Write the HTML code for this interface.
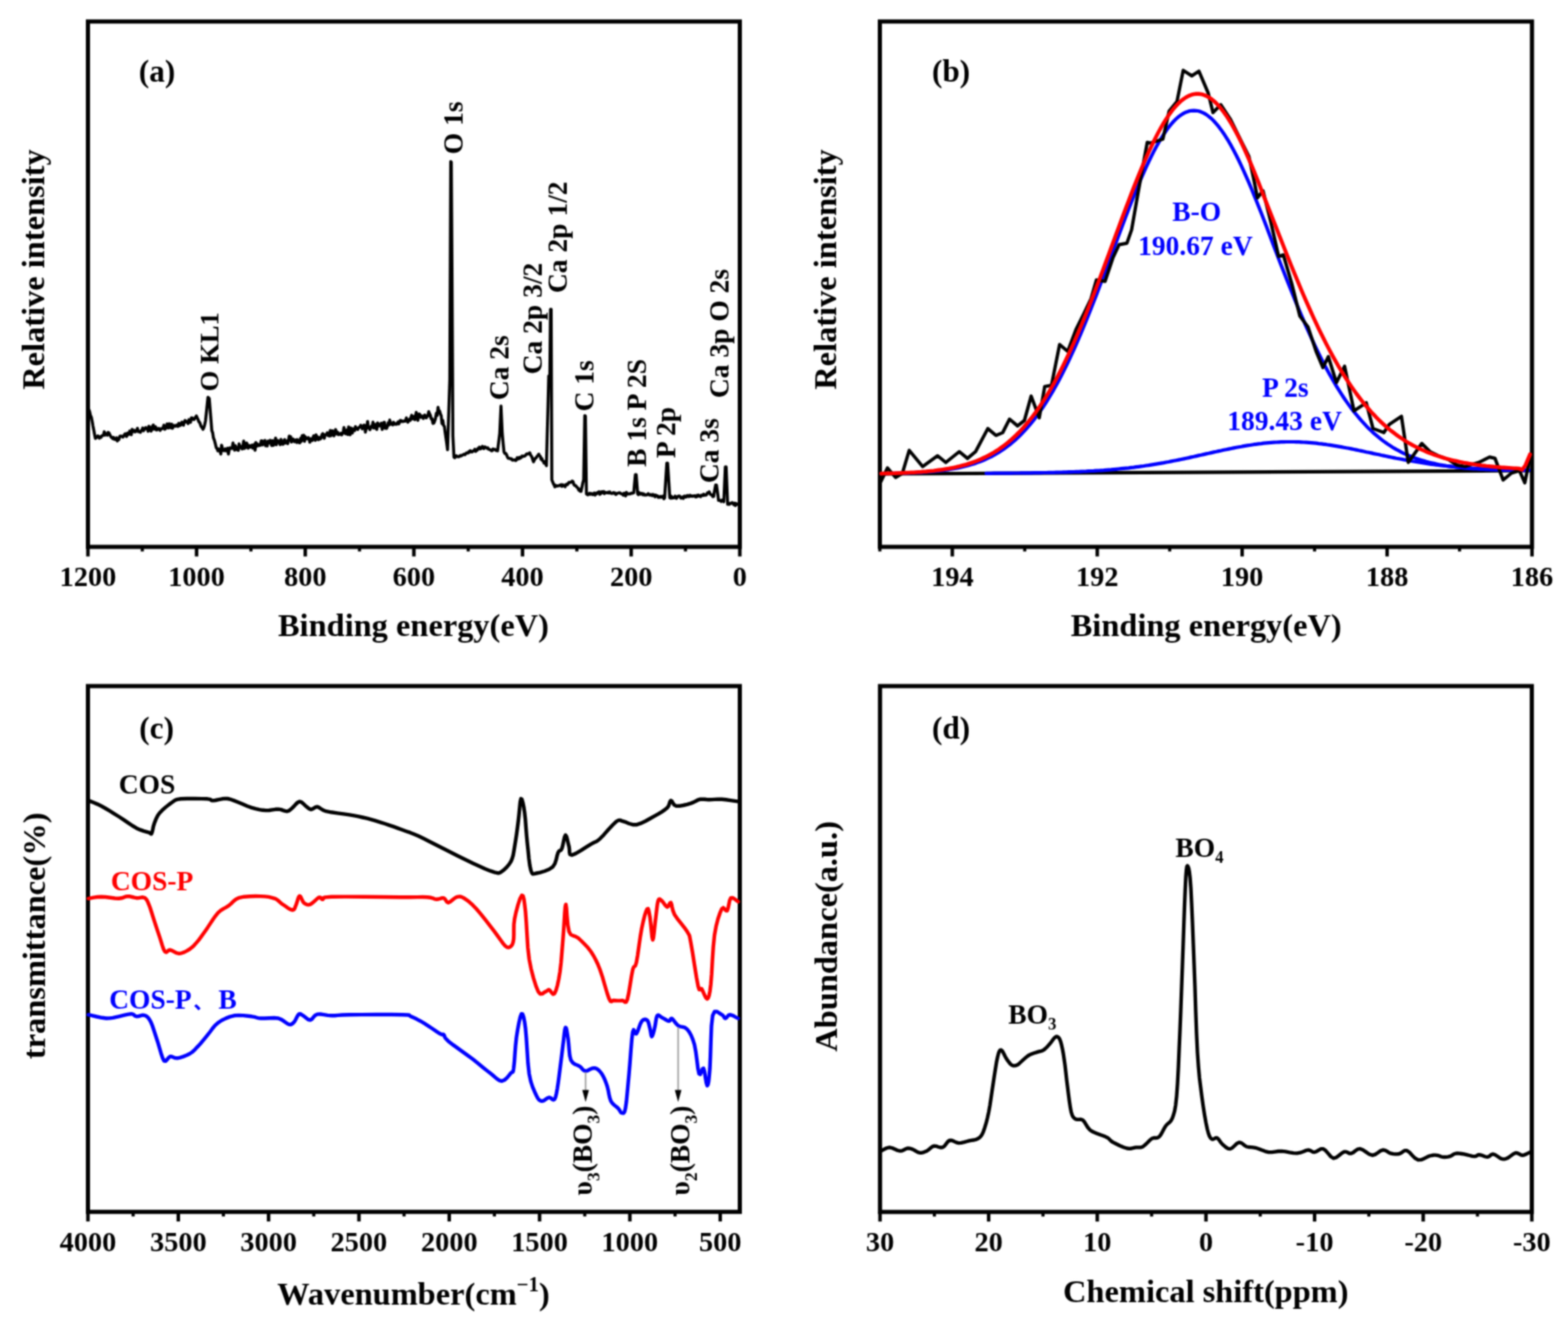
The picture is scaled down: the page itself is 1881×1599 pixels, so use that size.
<!DOCTYPE html>
<html><head><meta charset="utf-8"><title>Figure</title><style>html,body{margin:0;padding:0;background:#fff;}svg{display:block;}</style></head><body><div id="fig">
<svg width="1881" height="1599" viewBox="0 0 1881 1599" font-family="Liberation Serif, Times New Roman, serif" font-weight="bold">
<defs><filter id="soft" filterUnits="userSpaceOnUse" x="0" y="0" width="1881" height="1599" color-interpolation-filters="sRGB"><feConvolveMatrix order="5" kernelMatrix="1 5 10 5 1 5 25 50 25 5 10 50 100 50 10 5 25 50 25 5 1 5 10 5 1" divisor="484" edgeMode="duplicate"/></filter></defs>
<g filter="url(#soft)">
<rect width="1881" height="1599" fill="#fff"/>
<rect x="105.5" y="25.8" width="782.0" height="630.2" fill="none" stroke="#000" stroke-width="5"/>
<line x1="887.5" y1="656" x2="887.5" y2="667.5" stroke="#000" stroke-width="4.2"/>
<line x1="757.2" y1="656" x2="757.2" y2="667.5" stroke="#000" stroke-width="4.2"/>
<line x1="626.8" y1="656" x2="626.8" y2="667.5" stroke="#000" stroke-width="4.2"/>
<line x1="496.5" y1="656" x2="496.5" y2="667.5" stroke="#000" stroke-width="4.2"/>
<line x1="366.2" y1="656" x2="366.2" y2="667.5" stroke="#000" stroke-width="4.2"/>
<line x1="235.8" y1="656" x2="235.8" y2="667.5" stroke="#000" stroke-width="4.2"/>
<line x1="105.5" y1="656" x2="105.5" y2="667.5" stroke="#000" stroke-width="4.2"/>
<line x1="822.3" y1="656" x2="822.3" y2="661.5" stroke="#000" stroke-width="3.8"/>
<line x1="692" y1="656" x2="692" y2="661.5" stroke="#000" stroke-width="3.8"/>
<line x1="561.7" y1="656" x2="561.7" y2="661.5" stroke="#000" stroke-width="3.8"/>
<line x1="431.3" y1="656" x2="431.3" y2="661.5" stroke="#000" stroke-width="3.8"/>
<line x1="301" y1="656" x2="301" y2="661.5" stroke="#000" stroke-width="3.8"/>
<line x1="170.7" y1="656" x2="170.7" y2="661.5" stroke="#000" stroke-width="3.8"/>
<text x="887.5" y="702.5" font-size="34" text-anchor="middle" fill="#000" >0</text>
<text x="757.2" y="702.5" font-size="34" text-anchor="middle" fill="#000" >200</text>
<text x="626.8" y="702.5" font-size="34" text-anchor="middle" fill="#000" >400</text>
<text x="496.5" y="702.5" font-size="34" text-anchor="middle" fill="#000" >600</text>
<text x="366.2" y="702.5" font-size="34" text-anchor="middle" fill="#000" >800</text>
<text x="235.8" y="702.5" font-size="34" text-anchor="middle" fill="#000" >1000</text>
<text x="105.5" y="702.5" font-size="34" text-anchor="middle" fill="#000" >1200</text>
<text x="496" y="763" font-size="38.9" text-anchor="middle" fill="#000" >Binding energy(eV)</text>
<text x="53" y="467.5" font-size="38.9" text-anchor="start" fill="#000" transform="rotate(-90 53 467.5)" >Relative intensity</text>
<text x="166.5" y="97.5" font-size="37.5" text-anchor="start" fill="#000" >(a)</text>
<text x="554.8" y="185" font-size="33" text-anchor="start" fill="#000" transform="rotate(-90 554.8 185)" >O 1s</text>
<text x="262" y="469.5" font-size="32" text-anchor="start" fill="#000" transform="rotate(-90 262 469.5)" >O KL1</text>
<text x="609.5" y="480" font-size="33" text-anchor="start" fill="#000" transform="rotate(-90 609.5 480)" >Ca 2s</text>
<text x="650" y="449" font-size="33" text-anchor="start" fill="#000" transform="rotate(-90 650 449)" >Ca 2p 3/2</text>
<text x="679.5" y="351.5" font-size="33" text-anchor="start" fill="#000" transform="rotate(-90 679.5 351.5)" >Ca 2p 1/2</text>
<text x="712" y="493.5" font-size="33" text-anchor="start" fill="#000" transform="rotate(-90 712 493.5)" >C 1s</text>
<text x="775" y="560" font-size="33" text-anchor="start" fill="#000" transform="rotate(-90 775 560)" >B 1s P 2S</text>
<text x="810" y="549.5" font-size="33" text-anchor="start" fill="#000" transform="rotate(-90 810 549.5)" >P 2p</text>
<text x="861.6" y="579.5" font-size="33" text-anchor="start" fill="#000" transform="rotate(-90 861.6 579.5)" >Ca 3s</text>
<text x="874.2" y="477.5" font-size="33" text-anchor="start" fill="#000" transform="rotate(-90 874.2 477.5)" >Ca 3p O 2s</text>
<path d="M106.4,491 L107.5,493.7 L108.5,498.3 L109.6,500.6 L110.6,505.7 L111.5,510.8 L112.5,515.8 L113.4,520.9 L114.4,526 L115.4,525.1 L116.3,524.5 L117.3,522.9 L118.3,523.8 L119.2,525.7 L120.2,524 L121.2,524.6 L122.2,522.8 L123.1,522.6 L124.1,521.7 L125.1,517.9 L126,522 L127,520 L127.9,521.5 L128.8,522.1 L129.8,518.7 L130.7,519.2 L131.6,521.3 L132.5,522.7 L133.4,524.6 L134.3,524.6 L135.2,526.2 L136.2,524.7 L137.1,527 L138,527 L138.9,527.3 L139.9,525.1 L140.8,529 L141.7,526.5 L142.6,527.3 L143.6,523.6 L144.5,523 L145.4,523.4 L146.4,523.4 L147.3,524.4 L148.2,523.3 L149.1,521.7 L150.1,520.4 L151,520.8 L151.9,523.6 L152.9,519.5 L153.8,521.1 L154.7,521 L155.6,517.2 L156.6,519.6 L157.5,521.5 L158.4,515.1 L159.4,517.8 L160.3,517.8 L161.2,516.2 L162.1,518.1 L163.1,516.8 L164,516.5 L164.9,513.8 L165.8,517.8 L166.7,517.4 L167.6,517.8 L168.5,518.6 L169.4,516.6 L170.3,516 L171.2,513.4 L172.2,516.7 L173.1,514.4 L174,514.6 L174.9,513 L175.8,513.5 L176.7,514.1 L177.6,517.3 L178.5,511.2 L179.4,512.2 L180.3,515.1 L181.2,517.2 L182.1,515.5 L183,511 L183.9,509.8 L184.8,514.8 L185.7,512.8 L186.6,512 L187.5,515.7 L188.5,515.8 L189.4,514 L190.3,514 L191.2,514.3 L192.1,516.3 L193,514.4 L193.9,514.1 L194.8,514.1 L195.7,513 L196.6,510 L197.6,515 L198.5,514.2 L199.4,513.2 L200.4,508.6 L201.3,510.8 L202.2,513.3 L203.2,508.3 L204.1,511.1 L205.1,513.1 L206,508.7 L206.9,513.8 L207.9,511.7 L208.8,510.3 L209.7,510.9 L210.7,511.3 L211.6,510 L212.5,509.9 L213.5,511.5 L214.4,507.9 L215.4,508.1 L216.3,510.4 L217.2,508.3 L218.2,506.4 L219.1,509.4 L220.1,510 L221,506.3 L222,504.3 L222.9,506.2 L223.8,505.9 L224.8,505.3 L225.7,508.1 L226.7,503.4 L227.6,505 L228.6,506.5 L229.6,501.2 L230.6,501.3 L231.6,503.1 L232.6,503.3 L233.6,502 L234.6,500.4 L235.6,499 L236.6,501.3 L237.6,503.3 L238.6,506 L239.6,506.7 L240.5,509.5 L241.5,512 L242.5,513 L243.5,515 L244.5,513 L245.5,509.7 L246.5,505 L247.5,495.5 L248.5,486 L249.5,476.5 L251,478 L252.1,491.5 L253.2,505 L254.1,516.5 L255.1,519.1 L256,525 L257.2,528.1 L258.3,532.3 L259.5,537.3 L260.4,537.9 L261.3,540.8 L262.2,538.4 L263.1,540.8 L264,540.5 L264.9,544.7 L265.8,534 L266.7,537.3 L267.7,540.4 L268.6,540.7 L269.5,540.1 L270.4,538.3 L271.3,540.8 L272.2,539.7 L273.1,537.6 L274,544.6 L275,539.4 L275.9,537.1 L276.8,538 L277.7,537.6 L278.6,537.8 L279.5,531.2 L280.4,536.5 L281.4,539.9 L282.3,534.5 L283.2,537 L284.1,539.3 L285,538.9 L285.9,540.2 L286.8,532.4 L287.7,535.5 L288.7,535.4 L289.6,537.5 L290.5,538.5 L291.4,535.7 L292.3,529.1 L293.2,538 L294.1,531.8 L295,536.8 L296,531.4 L296.9,535.3 L297.8,537.6 L298.7,534.3 L299.6,535 L300.5,536.3 L301.4,534.6 L302.3,533.9 L303.2,537.6 L304.2,536.3 L305.1,533 L306,540.1 L306.9,530.7 L307.8,535.5 L308.7,532.5 L309.6,533.3 L310.5,534.6 L311.5,533.3 L312.4,534.1 L313.3,528.8 L314.2,528.7 L315.1,533.7 L316,529.8 L316.9,529.5 L317.8,528.3 L318.7,534.7 L319.7,533.3 L320.6,534.9 L321.5,529 L322.4,531.1 L323.3,531 L324.2,528.2 L325.1,532.6 L326,534.5 L326.9,528.5 L327.9,534.3 L328.8,532.8 L329.7,529.9 L330.6,525.5 L331.5,533.5 L332.4,529.8 L333.3,528.5 L334.2,530.8 L335.1,530.8 L336.1,533.3 L337,527.1 L337.9,532.2 L338.8,533 L339.7,532.8 L340.6,528.8 L341.5,527.3 L342.4,531.5 L343.4,529.2 L344.3,529.1 L345.2,532.2 L346.1,528 L347,523 L347.9,527.5 L348.8,523.9 L349.7,530.2 L350.6,528.9 L351.6,526.6 L352.5,528 L353.4,529.9 L354.3,528 L355.2,527.7 L356.1,530.8 L357,527.4 L358,530 L358.9,531 L359.8,531.2 L360.7,525.6 L361.6,529.2 L362.5,522.5 L363.5,524.4 L364.4,522.2 L365.3,529.4 L366.2,523.8 L367.1,526.6 L368.1,526.1 L369,526.4 L369.9,525 L370.8,526.9 L371.7,530.5 L372.7,526.3 L373.6,527.3 L374.5,528.4 L375.4,525.4 L376.3,522.8 L377.2,524.4 L378.2,528.2 L379.1,521.6 L380,525.5 L380.9,523.9 L381.8,527.5 L382.7,526.8 L383.6,524.8 L384.5,526.5 L385.4,524.8 L386.3,521.3 L387.2,520.2 L388.1,522.2 L389,525.8 L389.9,522 L390.8,521 L391.7,521.2 L392.6,519.2 L393.5,522.4 L394.4,519.6 L395.3,523.1 L396.2,516.4 L397.1,522.7 L398,520.1 L398.9,516.8 L399.8,521.3 L400.7,522.8 L401.6,520.1 L402.6,515.2 L403.5,518.2 L404.4,520.7 L405.3,518.7 L406.2,521.4 L407.1,521.1 L408.1,520.6 L409,519.6 L409.9,521.7 L410.8,519.8 L411.7,519.1 L412.6,512.8 L413.6,519.7 L414.5,520.4 L415.4,516.3 L416.3,515.6 L417.2,521.2 L418.2,512 L419.1,517.1 L420,521.6 L420.9,513.3 L421.8,516.9 L422.7,519.5 L423.7,514.4 L424.6,515.8 L425.5,516.4 L426.4,511.8 L427.3,513.5 L428.2,514.2 L429.2,515.2 L430.1,512.9 L431,512.7 L431.9,512.1 L432.8,510.1 L433.7,511.6 L434.6,514.5 L435.6,512.5 L436.5,510.1 L437.4,510 L438.3,518.4 L439.2,514.6 L440.1,513.3 L441,505.5 L441.9,513.1 L442.9,512.7 L443.8,515.5 L444.7,512.4 L445.6,511.1 L446.5,512.4 L447.4,506.4 L448.3,513.5 L449.2,511.7 L450.1,509.1 L451.1,513.9 L452,515 L452.9,507.2 L453.8,508.8 L454.7,511 L455.6,510.7 L456.5,509.2 L457.4,507.7 L458.4,515.1 L459.3,512.4 L460.2,506.9 L461.1,506.5 L462,513.7 L462.9,511.9 L463.8,513.8 L464.7,511.3 L465.7,507.2 L466.6,509.8 L467.5,503.9 L468.4,507.2 L469.3,508.9 L470.2,508.5 L471.1,509.7 L472,506.5 L472.9,507.7 L473.9,508.9 L474.8,508.4 L475.7,508.8 L476.6,507.6 L477.5,506.1 L478.4,508.5 L479.3,506.5 L480.2,504.2 L481.1,504.4 L482.1,505.7 L483,505.2 L483.9,505.6 L484.8,505 L485.7,505.2 L486.6,504.2 L487.5,501.3 L488.4,505.1 L489.3,506.4 L490.2,504.7 L491.2,503 L492.1,504.3 L493,500.6 L493.9,498.2 L494.8,502.5 L495.7,502.4 L496.7,499.7 L497.6,503.4 L498.5,498.7 L499.4,494.7 L500.4,498.3 L501.3,504.3 L502.2,499.3 L503.1,496.6 L504.1,497.8 L505,500.6 L505.9,500.2 L506.9,499.1 L507.8,502 L508.7,499.8 L509.6,497.8 L510.6,499 L511.5,501.2 L512.4,499.3 L513.3,499.1 L514.3,493.8 L515.2,496.1 L516.2,498 L517.3,502.5 L518.3,502.3 L519.4,507.9 L520.4,507.6 L521.4,505.2 L522.4,502.1 L523.5,495.6 L524.5,498.4 L525.5,488.5 L526.5,494 L527.4,493.1 L528.3,496.4 L529.3,498.7 L530.2,508.1 L531.2,504.3 L532.1,510.4 L533.1,511.5 L534,518.5 L535,525.5 L536,532.5 L536.9,539.5 L537.8,511.3 L538.7,483.2 L539.6,455 L540.7,193.8 L541.4,194.5 L542.2,320 L543.3,523 L544.6,548.5 L545.5,549.1 L546.5,548 L547.4,546.7 L548.3,547.6 L549.3,547.5 L550.2,548 L551.1,547.4 L552.1,546.4 L553,546.9 L553.9,546.4 L554.9,545.8 L555.8,545.4 L556.7,544.9 L557.7,545.5 L558.6,544.6 L559.5,543.3 L560.4,543.3 L561.3,543.5 L562.3,541.8 L563.2,542.4 L564.1,540.6 L565,541.5 L565.9,542.2 L566.8,541.9 L567.7,540.9 L568.7,540.4 L569.6,539 L570.5,541.5 L571.4,540 L572.3,540.2 L573.2,538 L574.1,538.3 L575.1,536.4 L576,538.4 L576.9,538.2 L577.8,537 L578.7,535.5 L579.6,537.3 L580.5,538.1 L581.4,536.1 L582.3,536.3 L583.3,537.1 L584.2,537.7 L585.1,537.2 L586,538.7 L586.9,539 L587.8,539.6 L588.7,539.8 L589.6,540.7 L590.5,540.6 L591.4,538.5 L592.4,539.4 L593.3,539.1 L594.2,539.3 L595.1,540.4 L596,540.6 L596.9,540.8 L598.2,530.4 L599.5,520 L601,487 L602.5,520 L603.5,531 L604.6,542 L605.6,544 L606.6,543.7 L607.7,545.5 L608.7,548.1 L609.7,549.7 L610.7,549.8 L611.7,550 L612.6,550.6 L613.6,550.3 L614.6,551.9 L615.6,551.9 L616.5,551.8 L617.5,551.6 L618.5,552.5 L619.4,551.8 L620.4,549 L621.3,550.1 L622.3,550.5 L623.2,548.6 L624.2,549.6 L625.1,549 L626.1,547.1 L627,547.6 L627.9,547.1 L628.9,547.2 L629.8,546.9 L630.8,545.8 L631.7,544.5 L632.7,544.6 L633.6,544.2 L634.6,544.4 L635.5,543.2 L636.4,545.6 L637.3,546.9 L638.2,548.5 L639.1,551.5 L640,554 L641,551.8 L642.1,549.9 L643.1,549.3 L644.2,547.4 L645.2,546.4 L646.3,544.8 L647.2,546.7 L648.1,547.2 L649.1,551 L650,550 L650.9,552.7 L651.8,553.2 L652.7,555.5 L653.7,553.7 L654.6,556.5 L655.5,558.6 L656.4,522.7 L657.4,486.9 L658.3,451 L659.6,450 L660.4,371 L661.2,371 L662,575.6 L662.9,577.9 L663.9,580.3 L664.8,581.8 L665.7,584 L666.7,582.2 L667.6,583.1 L668.6,582.7 L669.5,582.9 L670.4,582.6 L671.4,582 L672.3,582.7 L673.2,581.3 L674.2,583.4 L675.1,581.5 L676.1,582.7 L677,582.5 L677.9,583.9 L678.9,581.2 L679.8,580.9 L680.7,581.3 L681.6,579.8 L682.6,578.5 L683.5,578.9 L684.4,578.6 L685.4,578.2 L686.3,577 L687.3,577.6 L688.4,581.2 L689.4,582.4 L690.4,582.2 L691.5,583.7 L692.5,584.8 L693.4,585.4 L694.3,588 L695.2,587 L696.1,589.2 L697,589.5 L698.1,584.4 L699.1,579.6 L700.2,575.6 L701.5,498.5 L702.3,499 L703.5,592.5 L704.4,593.1 L705.4,593.6 L706.3,592.3 L707.3,591.6 L708.2,592.9 L709.2,592 L710.1,592.3 L711,593.3 L712,592.9 L712.9,591.3 L713.9,593.8 L714.8,591.6 L715.8,592.3 L716.7,590.9 L717.6,591.4 L718.6,589.8 L719.5,592.9 L720.5,592.4 L721.4,590 L722.4,589.7 L723.3,591 L724.2,589.6 L725.1,592.1 L726,590.7 L726.9,591.1 L727.8,590.9 L728.8,591.2 L729.7,590.3 L730.6,591.4 L731.5,590.1 L732.4,591.4 L733.3,591.8 L734.2,592 L735.1,591.4 L736,590.8 L736.9,591.8 L737.8,591.3 L738.8,593.2 L739.7,592.5 L740.6,591.7 L741.5,591.5 L742.4,591.3 L743.3,591.1 L744.2,591.7 L745.1,592.3 L746,592.6 L746.9,592.7 L747.8,594.1 L748.7,591.6 L749.7,592.3 L750.6,594.8 L751.5,590.7 L752.4,591.9 L753.3,592.6 L754.2,592.5 L755.2,592.4 L756.2,592.4 L757.2,591.5 L758.3,591.8 L759.3,591.3 L760.3,591 L761.2,580.2 L762.2,569.4 L763.2,569.4 L765,592.5 L765.9,593.3 L766.8,590.9 L767.7,591.9 L768.6,592.8 L769.5,591.9 L770.5,592 L771.4,593.5 L772.3,592.5 L773.2,593.7 L774.1,593.9 L775,593.5 L775.9,593.8 L776.8,593.3 L777.7,592.2 L778.6,593.5 L779.5,594 L780.5,593.2 L781.4,593.6 L782.3,594.5 L783.2,593.1 L784.1,594.5 L785,594 L785.9,595.9 L786.9,594 L787.8,594.9 L788.8,594.8 L789.7,596.6 L790.7,595.8 L791.6,596.5 L792.6,595.3 L793.5,596.2 L794.5,596.5 L795.4,595.1 L796.4,598.3 L797.3,597.2 L798.6,576.4 L799.9,555.5 L800.9,555.5 L802.2,576.2 L803.5,597 L804.4,597.7 L805.3,595.3 L806.2,597.5 L807.1,596.6 L808,597.1 L808.9,597 L809.8,595.2 L810.7,596.3 L811.6,597.8 L812.5,595.9 L813.4,595.4 L814.3,595 L815.2,595.1 L816.1,596.4 L817,597.6 L817.9,596.4 L818.8,596.2 L819.7,597.9 L820.6,595.3 L821.5,595.1 L822.4,596.2 L823.3,596.1 L824.2,594.6 L825.1,594.4 L826,595.7 L826.9,595.6 L827.8,594.1 L828.7,595.1 L829.6,594.7 L830.5,595.5 L831.4,595 L832.3,594.9 L833.2,594.6 L834.1,595.8 L835,596.1 L835.9,594.4 L836.8,595.4 L837.7,593.9 L838.6,594.6 L839.5,595.2 L840.4,595.8 L841.3,594 L842.2,594.2 L843.1,594.4 L844,592.8 L844.9,594.1 L845.8,593.5 L846.7,594 L847.7,593.3 L848.8,591 L849.8,591 L850.8,590 L851.9,592.6 L852.9,593.5 L853.9,593.6 L855,595.6 L856,595.6 L857.2,588.7 L858.5,581.8 L859.5,581.8 L860.8,591 L862,600.3 L863,600.3 L864.1,600.3 L865.1,601.5 L866.2,599.9 L867.2,600.9 L868.3,601.8 L869.2,580.9 L870.1,560 L871.1,560 L872.9,604.9 L873.8,604.6 L874.7,605 L875.7,603.8 L876.6,603.9 L877.5,603.3 L878.4,602.9 L879.4,604 L880.3,605.4 L881.2,603.5 L882.2,606.5 L883.1,604 L884.1,604.8 L885,605" fill="none" stroke="#000" stroke-width="3.6" stroke-linejoin="round" stroke-linecap="round" />
<rect x="1055.5" y="25.8" width="782.3" height="630.2" fill="none" stroke="#000" stroke-width="5"/>
<line x1="1142.4" y1="656" x2="1142.4" y2="667.5" stroke="#000" stroke-width="4.2"/>
<line x1="1316.3" y1="656" x2="1316.3" y2="667.5" stroke="#000" stroke-width="4.2"/>
<line x1="1490.1" y1="656" x2="1490.1" y2="667.5" stroke="#000" stroke-width="4.2"/>
<line x1="1664" y1="656" x2="1664" y2="667.5" stroke="#000" stroke-width="4.2"/>
<line x1="1837.8" y1="656" x2="1837.8" y2="667.5" stroke="#000" stroke-width="4.2"/>
<line x1="1055.5" y1="656" x2="1055.5" y2="661.5" stroke="#000" stroke-width="3.8"/>
<line x1="1229.3" y1="656" x2="1229.3" y2="661.5" stroke="#000" stroke-width="3.8"/>
<line x1="1403.2" y1="656" x2="1403.2" y2="661.5" stroke="#000" stroke-width="3.8"/>
<line x1="1577" y1="656" x2="1577" y2="661.5" stroke="#000" stroke-width="3.8"/>
<line x1="1750.9" y1="656" x2="1750.9" y2="661.5" stroke="#000" stroke-width="3.8"/>
<text x="1142.4" y="703" font-size="34" text-anchor="middle" fill="#000" >194</text>
<text x="1316.3" y="703" font-size="34" text-anchor="middle" fill="#000" >192</text>
<text x="1490.1" y="703" font-size="34" text-anchor="middle" fill="#000" >190</text>
<text x="1664" y="703" font-size="34" text-anchor="middle" fill="#000" >188</text>
<text x="1837.8" y="703" font-size="34" text-anchor="middle" fill="#000" >186</text>
<text x="1447" y="762.5" font-size="38.9" text-anchor="middle" fill="#000" >Binding energy(eV)</text>
<text x="1003" y="467.5" font-size="38.9" text-anchor="start" fill="#000" transform="rotate(-90 1003 467.5)" >Relative intensity</text>
<text x="1118" y="97.5" font-size="37.5" text-anchor="start" fill="#000" >(b)</text>
<path d="M1056,568.5 L1836,564.5" fill="none" stroke="#000" stroke-width="4.2" stroke-linejoin="round" stroke-linecap="round" />
<path d="M1183,567.8 L1186,567.8 L1189,567.8 L1192,567.7 L1195,567.7 L1198,567.7 L1201,567.7 L1204,567.6 L1207,567.6 L1210,567.6 L1213,567.6 L1216,567.5 L1219,567.5 L1222,567.5 L1225,567.4 L1228,567.4 L1231,567.3 L1234,567.3 L1237,567.3 L1240,567.2 L1243,567.2 L1246,567.1 L1249,567.1 L1252,567 L1255,567 L1258,566.9 L1261,566.8 L1264,566.8 L1267,566.7 L1270,566.6 L1273,566.5 L1276,566.4 L1279,566.3 L1282,566.2 L1285,566.1 L1288,566 L1291,565.9 L1294,565.8 L1297,565.6 L1300,565.5 L1303,565.4 L1306,565.2 L1309,565 L1312,564.9 L1315,564.7 L1318,564.5 L1321,564.3 L1324,564.1 L1327,563.8 L1330,563.6 L1333,563.4 L1336,563.1 L1339,562.8 L1342,562.5 L1345,562.2 L1348,561.9 L1351,561.6 L1354,561.3 L1357,560.9 L1360,560.6 L1363,560.2 L1366,559.8 L1369,559.4 L1372,559 L1375,558.5 L1378,558.1 L1381,557.6 L1384,557.1 L1387,556.6 L1390,556.1 L1393,555.6 L1396,555.1 L1399,554.5 L1402,554 L1405,553.4 L1408,552.8 L1411,552.2 L1414,551.6 L1417,551 L1420,550.4 L1423,549.7 L1426,549.1 L1429,548.4 L1432,547.8 L1435,547.1 L1438,546.4 L1441,545.8 L1444,545.1 L1447,544.4 L1450,543.8 L1453,543.1 L1456,542.4 L1459,541.8 L1462,541.1 L1465,540.5 L1468,539.8 L1471,539.2 L1474,538.6 L1477,538 L1480,537.4 L1483,536.8 L1486,536.2 L1489,535.7 L1492,535.1 L1495,534.6 L1498,534.2 L1501,533.7 L1504,533.2 L1507,532.8 L1510,532.4 L1513,532.1 L1516,531.7 L1519,531.4 L1522,531.1 L1525,530.9 L1528,530.7 L1531,530.5 L1534,530.3 L1537,530.2 L1540,530.1 L1543,530 L1546,530 L1549,530 L1552,530 L1555,530.1 L1558,530.2 L1561,530.3 L1564,530.5 L1567,530.7 L1570,530.9 L1573,531.1 L1576,531.4 L1579,531.7 L1582,532.1 L1585,532.4 L1588,532.8 L1591,533.2 L1594,533.7 L1597,534.1 L1600,534.6 L1603,535.1 L1606,535.6 L1609,536.1 L1612,536.7 L1615,537.3 L1618,537.8 L1621,538.4 L1624,539 L1627,539.6 L1630,540.3 L1633,540.9 L1636,541.5 L1639,542.2 L1642,542.8 L1645,543.4 L1648,544.1 L1651,544.7 L1654,545.3 L1657,546 L1660,546.6 L1663,547.2 L1666,547.9 L1669,548.5 L1672,549.1 L1675,549.7 L1678,550.2 L1681,550.8 L1684,551.4 L1687,551.9 L1690,552.5 L1693,553 L1696,553.5 L1699,554 L1702,554.5 L1705,555 L1708,555.5 L1711,555.9 L1714,556.4 L1717,556.8 L1720,557.2 L1723,557.6 L1726,557.9 L1729,558.3 L1732,558.7 L1735,559 L1738,559.3 L1741,559.6 L1744,559.9 L1747,560.2 L1750,560.5 L1753,560.7 L1756,560.9 L1759,561.2 L1762,561.4 L1765,561.6 L1768,561.8 L1771,562 L1774,562.1 L1777,562.3 L1780,562.5 L1783,562.6 L1786,562.7 L1789,562.9 L1792,563 L1795,563.1 L1798,563.2 L1801,563.3 L1804,563.4 L1807,563.5 L1810,563.5 L1813,563.6 L1816,563.7 L1819,563.7 L1822,563.8 L1825,563.8 L1828,563.9 L1831,563.9 L1834,563.9" fill="none" stroke="#0000ff" stroke-width="4.2" stroke-linejoin="round" stroke-linecap="round" />
<path d="M1057,568.2 L1060,568.2 L1063,568.1 L1066,568 L1069,568 L1072,567.9 L1075,567.8 L1078,567.7 L1081,567.7 L1084,567.6 L1087,567.5 L1090,567.3 L1093,567.2 L1096,567.1 L1099,566.9 L1102,566.8 L1105,566.6 L1108,566.4 L1111,566.2 L1114,566 L1117,565.7 L1120,565.4 L1123,565.1 L1126,564.8 L1129,564.5 L1132,564.1 L1135,563.7 L1138,563.3 L1141,562.8 L1144,562.3 L1147,561.7 L1150,561.1 L1153,560.5 L1156,559.8 L1159,559 L1162,558.2 L1165,557.3 L1168,556.4 L1171,555.4 L1174,554.3 L1177,553.2 L1180,552 L1183,550.6 L1186,549.2 L1189,547.8 L1192,546.2 L1195,544.5 L1198,542.7 L1201,540.8 L1204,538.8 L1207,536.6 L1210,534.4 L1213,532 L1216,529.4 L1219,526.8 L1222,524 L1225,521 L1228,517.9 L1231,514.6 L1234,511.2 L1237,507.6 L1240,503.9 L1243,500 L1246,495.9 L1249,491.6 L1252,487.2 L1255,482.5 L1258,477.7 L1261,472.7 L1264,467.6 L1267,462.2 L1270,456.7 L1273,451 L1276,445.1 L1279,439.1 L1282,432.8 L1285,426.4 L1288,419.9 L1291,413.1 L1294,406.2 L1297,399.2 L1300,392 L1303,384.7 L1306,377.3 L1309,369.8 L1312,362.1 L1315,354.4 L1318,346.5 L1321,338.6 L1324,330.7 L1327,322.6 L1330,314.6 L1333,306.5 L1336,298.5 L1339,290.4 L1342,282.4 L1345,274.4 L1348,266.4 L1351,258.6 L1354,250.8 L1357,243.1 L1360,235.6 L1363,228.2 L1366,221 L1369,213.9 L1372,207.1 L1375,200.4 L1378,194 L1381,187.8 L1384,181.9 L1387,176.2 L1390,170.9 L1393,165.8 L1396,161.1 L1399,156.7 L1402,152.6 L1405,148.9 L1408,145.5 L1411,142.5 L1414,139.9 L1417,137.7 L1420,135.9 L1423,134.4 L1426,133.4 L1429,132.8 L1432,132.6 L1435,132.8 L1438,133.3 L1441,134.3 L1444,135.7 L1447,137.4 L1450,139.6 L1453,142.1 L1456,145 L1459,148.3 L1462,151.9 L1465,155.9 L1468,160.2 L1471,164.8 L1474,169.7 L1477,174.9 L1480,180.5 L1483,186.2 L1486,192.3 L1489,198.6 L1492,205.1 L1495,211.8 L1498,218.7 L1501,225.8 L1504,233.1 L1507,240.5 L1510,248 L1513,255.6 L1516,263.3 L1519,271.1 L1522,279 L1525,286.9 L1528,294.9 L1531,302.8 L1534,310.7 L1537,318.4 L1540,326.1 L1543,333.7 L1546,341.3 L1549,348.8 L1552,356.2 L1555,363.6 L1558,370.8 L1561,377.9 L1564,384.9 L1567,391.8 L1570,398.5 L1573,405.2 L1576,411.6 L1579,417.9 L1582,424.1 L1585,430.1 L1588,436 L1591,441.7 L1594,447.2 L1597,452.6 L1600,457.8 L1603,462.8 L1606,467.7 L1609,472.4 L1612,477 L1615,481.4 L1618,485.6 L1621,489.7 L1624,493.6 L1627,497.3 L1630,500.9 L1633,504.4 L1636,507.7 L1639,510.9 L1642,513.9 L1645,516.8 L1648,519.6 L1651,522.2 L1654,524.7 L1657,527.1 L1660,529.4 L1663,531.5 L1666,533.6 L1669,535.5 L1672,537.4 L1675,539.1 L1678,540.7 L1681,542.3 L1684,543.8 L1687,545.2 L1690,546.5 L1693,547.7 L1696,548.9 L1699,550 L1702,551 L1705,551.9 L1708,552.8 L1711,553.7 L1714,554.5 L1717,555.2 L1720,555.9 L1723,556.6 L1726,557.2 L1729,557.7 L1732,558.3 L1735,558.8 L1738,559.2 L1741,559.6 L1744,560 L1747,560.4 L1750,560.7 L1753,561 L1756,561.3 L1759,561.6 L1762,561.8 L1765,562.1 L1768,562.3 L1771,562.5 L1774,562.7 L1777,562.8 L1780,563 L1783,563.1 L1786,563.2 L1789,563.3 L1792,563.4 L1795,563.5 L1798,563.6 L1801,563.7 L1804,563.8 L1807,563.8 L1810,563.9 L1813,563.9 L1816,564 L1819,564 L1822,564.1 L1825,564.1 L1828,564.1 L1831,564.1 L1834,564.2" fill="none" stroke="#0000ff" stroke-width="4.2" stroke-linejoin="round" stroke-linecap="round" />
<path d="M1056,579.2 L1064.6,561.3 L1074.4,572.7 L1082.5,567.8 L1090.7,540.2 L1106.9,559.7 L1124.8,546.7 L1134.6,554.8 L1150.8,541.8 L1160.6,549.9 L1170.3,541.8 L1185,514.1 L1194.7,522.3 L1202.8,519 L1211,502.8 L1220.7,510.9 L1228.9,504.4 L1237,475.1 L1246.7,501.1 L1253.3,463.7 L1261.4,462.1 L1271.1,413.3 L1280.9,421.5 L1290.7,395.4 L1300.4,375.9 L1308.8,358.3 L1315.3,335.7 L1325.6,337.6 L1335,309.5 L1342.5,293.5 L1351.9,291.7 L1357.5,275.7 L1365,232.6 L1372.5,191.3 L1376.3,170.7 L1380,171.6 L1395,166.9 L1402.5,133.2 L1411.9,121.9 L1419.4,84.4 L1429.7,91 L1438.2,85.3 L1449.4,111.6 L1455.1,135 L1464.5,125.7 L1475.7,142.5 L1488.8,168.8 L1498.2,187.6 L1503.8,213.8 L1508.5,237.3 L1515.1,228.8 L1524.5,266.3 L1533.9,307.6 L1539.5,305.7 L1549.6,340.1 L1559.3,379.1 L1569.1,392.1 L1578.8,421.4 L1587,440.9 L1593.5,427.9 L1603.2,458.8 L1613,439.3 L1624.3,492.9 L1639,483.2 L1647.1,514 L1660.1,518.9 L1666.6,509.2 L1681.2,499.4 L1689.4,554.7 L1705.6,532 L1715.4,541.7 L1725.1,546.6 L1738.1,551.5 L1747.9,558 L1757.6,559.6 L1773.9,554.7 L1786.9,548.2 L1793.4,549.8 L1803.2,575.8 L1812.9,567.7 L1822.7,564.5 L1829.2,579.1 L1835.5,548.2" fill="none" stroke="#000" stroke-width="4" stroke-linejoin="round" stroke-linecap="round" />
<path d="M1057,568.1 L1060,568 L1063,567.9 L1066,567.9 L1069,567.8 L1072,567.7 L1075,567.6 L1078,567.5 L1081,567.4 L1084,567.3 L1087,567.1 L1090,567 L1093,566.8 L1096,566.7 L1099,566.5 L1102,566.3 L1105,566.1 L1108,565.8 L1111,565.6 L1114,565.3 L1117,565 L1120,564.7 L1123,564.3 L1126,563.9 L1129,563.5 L1132,563.1 L1135,562.6 L1138,562.1 L1141,561.5 L1144,560.9 L1147,560.3 L1150,559.6 L1153,558.8 L1156,558 L1159,557.2 L1162,556.2 L1165,555.2 L1168,554.2 L1171,553.1 L1174,551.9 L1177,550.6 L1180,549.2 L1183,547.8 L1186,546.2 L1189,544.6 L1192,542.9 L1195,541 L1198,539.1 L1201,537 L1204,534.8 L1207,532.5 L1210,530.1 L1213,527.5 L1216,524.8 L1219,522 L1222,519 L1225,515.8 L1228,512.6 L1231,509.1 L1234,505.5 L1237,501.8 L1240,497.9 L1243,493.8 L1246,489.5 L1249,485.1 L1252,480.5 L1255,475.7 L1258,470.8 L1261,465.6 L1264,460.3 L1267,454.8 L1270,449.2 L1273,443.3 L1276,437.3 L1279,431.1 L1282,424.8 L1285,418.3 L1288,411.6 L1291,404.8 L1294,397.8 L1297,390.7 L1300,383.5 L1303,376.1 L1306,368.6 L1309,360.9 L1312,353.2 L1315,345.4 L1318,337.5 L1321,329.5 L1324,321.5 L1327,313.4 L1330,305.3 L1333,297.1 L1336,289 L1339,280.8 L1342,272.7 L1345,264.6 L1348,256.6 L1351,248.6 L1354,240.7 L1357,232.9 L1360,225.2 L1363,217.6 L1366,210.2 L1369,203 L1372,195.9 L1375,189 L1378,182.3 L1381,175.9 L1384,169.7 L1387,163.7 L1390,158 L1393,152.6 L1396,147.5 L1399,142.7 L1402,138.2 L1405,134.1 L1408,130.2 L1411,126.8 L1414,123.7 L1417,120.9 L1420,118.6 L1423,116.6 L1426,115 L1429,113.8 L1432,113 L1435,112.6 L1438,112.6 L1441,113 L1444,113.8 L1447,115 L1450,116.6 L1453,118.6 L1456,121 L1459,123.8 L1462,126.9 L1465,130.5 L1468,134.4 L1471,138.6 L1474,143.2 L1477,148.1 L1480,153.3 L1483,158.8 L1486,164.6 L1489,170.7 L1492,177.1 L1495,183.7 L1498,190.5 L1501,197.5 L1504,204.7 L1507,212.1 L1510,219.6 L1513,227.3 L1516,235.2 L1519,242.7 L1522,250.3 L1525,257.9 L1528,265.5 L1531,273.1 L1534,280.8 L1537,288.4 L1540,296 L1543,303.6 L1546,311.1 L1549,318.5 L1552,325.9 L1555,333.2 L1558,340.4 L1561,347.6 L1564,354.6 L1567,361.5 L1570,368.3 L1573,375 L1576,381.6 L1579,388 L1582,394.4 L1585,400.5 L1588,406.6 L1591,412.5 L1594,418.2 L1597,423.8 L1600,429.3 L1603,434.6 L1606,439.8 L1609,444.9 L1612,449.7 L1615,454.5 L1618,459.1 L1621,463.5 L1624,467.8 L1627,472 L1630,476 L1633,479.9 L1636,483.7 L1639,487.3 L1642,490.8 L1645,494.2 L1648,497.4 L1651,500.6 L1654,503.6 L1657,506.5 L1660,509.2 L1663,511.9 L1666,514.4 L1669,516.9 L1672,519.2 L1675,521.5 L1678,523.6 L1681,525.7 L1684,527.7 L1687,529.6 L1690,531.4 L1693,533.1 L1696,534.7 L1699,536.3 L1702,537.8 L1705,539.2 L1708,540.5 L1711,541.8 L1714,543.1 L1717,544.2 L1720,545.3 L1723,546.4 L1726,547.4 L1729,548.3 L1732,549.3 L1735,550.1 L1738,550.9 L1741,551.7 L1744,552.4 L1747,553.1 L1750,553.8 L1753,554.4 L1756,555 L1759,555.5 L1762,556.1 L1765,556.5 L1768,557 L1771,557.5 L1774,557.9 L1777,558.3 L1780,558.6 L1783,559 L1786,559.3 L1789,559.6 L1792,559.9 L1795,560.2 L1798,560.4 L1801,560.7 L1804,560.9 L1807,561.1 L1810,561.3 L1813,561.5 L1816,561.7 L1819,561.8 L1822,562 L1826,563.5 L1830,558 L1835.5,545" fill="none" stroke="#ff0000" stroke-width="4.6" stroke-linejoin="round" stroke-linecap="round" />
<text x="1435.5" y="265" font-size="33" text-anchor="middle" fill="#0000ff" >B-O</text>
<text x="1434" y="305.5" font-size="33" text-anchor="middle" fill="#0000ff" >190.67 eV</text>
<text x="1542" y="475.5" font-size="33" text-anchor="middle" fill="#0000ff" >P 2s</text>
<text x="1541" y="515.5" font-size="33" text-anchor="middle" fill="#0000ff" >189.43 eV</text>
<rect x="105.5" y="823" width="782.0" height="630.7" fill="none" stroke="#000" stroke-width="5"/>
<line x1="105.5" y1="1453.7" x2="105.5" y2="1465.2" stroke="#000" stroke-width="4.2"/>
<line x1="213.9" y1="1453.7" x2="213.9" y2="1465.2" stroke="#000" stroke-width="4.2"/>
<line x1="322.2" y1="1453.7" x2="322.2" y2="1465.2" stroke="#000" stroke-width="4.2"/>
<line x1="430.6" y1="1453.7" x2="430.6" y2="1465.2" stroke="#000" stroke-width="4.2"/>
<line x1="538.9" y1="1453.7" x2="538.9" y2="1465.2" stroke="#000" stroke-width="4.2"/>
<line x1="647.3" y1="1453.7" x2="647.3" y2="1465.2" stroke="#000" stroke-width="4.2"/>
<line x1="755.6" y1="1453.7" x2="755.6" y2="1465.2" stroke="#000" stroke-width="4.2"/>
<line x1="864" y1="1453.7" x2="864" y2="1465.2" stroke="#000" stroke-width="4.2"/>
<line x1="159.7" y1="1453.7" x2="159.7" y2="1459.2" stroke="#000" stroke-width="3.8"/>
<line x1="268" y1="1453.7" x2="268" y2="1459.2" stroke="#000" stroke-width="3.8"/>
<line x1="376.4" y1="1453.7" x2="376.4" y2="1459.2" stroke="#000" stroke-width="3.8"/>
<line x1="484.7" y1="1453.7" x2="484.7" y2="1459.2" stroke="#000" stroke-width="3.8"/>
<line x1="593.1" y1="1453.7" x2="593.1" y2="1459.2" stroke="#000" stroke-width="3.8"/>
<line x1="701.5" y1="1453.7" x2="701.5" y2="1459.2" stroke="#000" stroke-width="3.8"/>
<line x1="809.8" y1="1453.7" x2="809.8" y2="1459.2" stroke="#000" stroke-width="3.8"/>
<text x="105.5" y="1500.5" font-size="34" text-anchor="middle" fill="#000" >4000</text>
<text x="213.9" y="1500.5" font-size="34" text-anchor="middle" fill="#000" >3500</text>
<text x="322.2" y="1500.5" font-size="34" text-anchor="middle" fill="#000" >3000</text>
<text x="430.6" y="1500.5" font-size="34" text-anchor="middle" fill="#000" >2500</text>
<text x="538.9" y="1500.5" font-size="34" text-anchor="middle" fill="#000" >2000</text>
<text x="647.3" y="1500.5" font-size="34" text-anchor="middle" fill="#000" >1500</text>
<text x="755.6" y="1500.5" font-size="34" text-anchor="middle" fill="#000" >1000</text>
<text x="864" y="1500.5" font-size="34" text-anchor="middle" fill="#000" >500</text>
<text x="332.5" y="1565" font-size="38.9">Wavenumber(cm<tspan font-size="25" dy="-16">−1</tspan><tspan dy="16">)</tspan></text>
<text x="53.5" y="1270.5" font-size="38.9" text-anchor="start" fill="#000" transform="rotate(-90 53.5 1270.5)" >transmittance(%)</text>
<text x="167" y="886" font-size="37.5" text-anchor="start" fill="#000" >(c)</text>
<text x="142.5" y="952" font-size="33" text-anchor="start" fill="#000" >COS</text>
<text x="133" y="1068" font-size="33" text-anchor="start" fill="#ff0000" >COS-P</text>
<text x="131" y="1210" font-size="33" fill="#0000ff">COS-P<tspan font-family="Noto Sans CJK SC, sans-serif" font-weight="bold" font-size="24" dx="2">、</tspan><tspan dx="6">B</tspan></text>
<path d="M106.4,960.4 L108.9,961.4 L112.5,962.8 L116.8,964.6 L121.3,966.8 L126.2,969.5 L131.5,972.7 L137,976.1 L142.5,979.5 L148,983.1 L153.5,986.9 L158.9,990.5 L163.8,993.4 L168.2,995.4 L172.4,996.9 L175.9,997.9 L178.7,998.7 L180.3,999.6 L181,1000.3 L181.4,1000.4 L181.9,999.7 L182.6,997.7 L183.3,994.7 L184,991.3 L185,988 L186.2,984.9 L187.5,981.7 L189.1,978.5 L191.4,975.3 L194.6,971.9 L198.6,968.4 L202.7,965.1 L206.3,962.5 L208.8,960.7 L210.6,959.6 L212.9,958.9 L217,958.3 L224.1,958 L233.2,957.9 L242.2,958.1 L248.9,958.3 L252.1,958.8 L253.1,959.5 L253.6,960.1 L255.2,960.4 L258.4,960 L262.4,959.1 L266.5,958.3 L270.1,957.9 L272.8,958 L275.1,958.5 L277.5,959.2 L280.8,960.4 L285.5,962.2 L291,964.6 L296.7,967 L302,968.9 L306.6,970.2 L310.9,971.1 L315,971.8 L319,972.1 L323,972 L326.9,971.4 L330.5,970.8 L333.9,970.6 L337,971.1 L339.7,972.1 L342.2,972.9 L344.5,973.2 L346.3,972.7 L347.8,971.7 L349.3,970.4 L350.9,968.9 L352.9,966.9 L355,964.5 L357.2,962.5 L359.4,961.5 L361.6,962.2 L363.8,964 L366,966.1 L367.9,967.8 L369.4,969 L370.7,970 L371.9,970.7 L373.3,971 L374.9,970.4 L376.7,969.3 L378.6,968.1 L380.7,967.8 L382.7,968.6 L384.7,970 L387.4,971.7 L391.3,973.2 L397.2,974.3 L404.5,975.4 L412.1,976.4 L419,977.4 L424.8,978.4 L430,979.4 L435,980.5 L440.2,981.7 L445.5,983.1 L450.8,984.7 L456.2,986.3 L461.5,988 L466.9,989.8 L472.3,991.7 L477.6,993.6 L482.8,995.5 L487.5,997.2 L491.9,998.7 L496.4,1000.5 L501.8,1002.8 L508,1005.8 L514.8,1009.2 L522.2,1013 L530.1,1017 L539,1021.5 L548.8,1026.5 L558.5,1031.3 L567.2,1035.5 L574.9,1039 L582,1042.2 L588.2,1044.7 L593.3,1046.4 L596.7,1047.2 L598.6,1047.3 L600.2,1046.6 L602.1,1045.3 L604.8,1043.2 L607.8,1040.3 L610.7,1036.9 L613,1033.3 L614.5,1029.6 L615.6,1025.8 L616.4,1021.3 L617.3,1015.9 L618.4,1009.1 L619.6,1001.3 L620.7,993.1 L621.7,985.4 L622.6,977.3 L623.4,968.8 L624.1,961.8 L625,958.1 L626,958.6 L627.1,962.3 L628.3,967.9 L629.3,974.5 L630.2,982.4 L630.9,992 L631.7,1002.1 L632.6,1011.5 L633.6,1020.7 L634.5,1030 L635.6,1038.2 L636.9,1044.2 L638.1,1047.3 L639.2,1048.4 L640.9,1048.1 L643.5,1047.5 L647.8,1046.6 L653.3,1045 L658.8,1042.8 L663.1,1039.9 L665.7,1035.9 L667.3,1030.9 L668.4,1026.1 L669.6,1022.4 L670.8,1020.7 L671.9,1020.2 L672.9,1019.7 L674,1018.1 L675.1,1014.1 L676.2,1008.7 L677.3,1003.9 L678.4,1001.7 L679.5,1003.2 L680.6,1007.2 L681.7,1011.9 L682.7,1015.9 L683.1,1019.2 L683.2,1022.5 L683.8,1025 L686,1025.7 L690.6,1023.9 L697,1020.2 L703.6,1015.9 L708.9,1012.6 L712.3,1010.8 L714.6,1009.8 L716.7,1008.6 L719.8,1006.1 L724.3,1001.4 L729.7,995.3 L735.1,989.5 L739.4,985.4 L742.2,983.9 L744,983.9 L745.7,984.6 L748.1,985.4 L751.3,986.4 L754.9,988 L759,989.2 L763.4,989.3 L768.5,987.7 L774.3,985 L780.1,981.8 L785.2,978.9 L789.7,976.4 L793.9,973.8 L797.5,971.4 L800.4,969 L802.2,966.4 L803.1,963.6 L803.8,961.4 L804.8,960.3 L806,961.1 L807.2,963.3 L808.9,965.6 L811.3,966.9 L815,966.8 L819.7,966 L824.6,964.8 L828.7,963.6 L831.9,962.4 L834.6,961 L837,959.7 L839.6,958.8 L842.2,958.6 L844.8,958.7 L847.5,959 L850.5,959.2 L853.9,959.1 L857.6,958.9 L861.6,958.7 L865.8,958.8 L870.8,959.3 L876.4,960.1 L881.5,960.9 L885,961.4" fill="none" stroke="#000" stroke-width="4.4" stroke-linejoin="round" stroke-linecap="round" />
<path d="M106,1077.8 L108.6,1077.3 L112.3,1076.6 L116.7,1076 L121.3,1075.7 L126.4,1076 L132.2,1076.8 L137.8,1077.5 L142.5,1077.8 L145.9,1077.3 L148.5,1076.4 L150.8,1075.5 L153.2,1075.1 L155.9,1075.3 L158.6,1076 L161.2,1076.7 L163.8,1077.2 L166.4,1077.1 L168.9,1076.6 L171.3,1076.3 L173.4,1076.8 L175,1078.1 L176.3,1079.8 L177.4,1082.2 L178.7,1085.3 L180.2,1089.3 L181.8,1094.2 L183.4,1099.4 L185,1104.4 L186.6,1109.2 L188.2,1114.1 L189.8,1118.9 L191.4,1123.6 L193,1128.7 L194.6,1133.9 L196.2,1138.5 L197.8,1141.6 L199.3,1142.3 L200.7,1141.4 L202.3,1140 L204.2,1139.5 L206.5,1140.4 L209.1,1141.8 L211.9,1143.2 L214.8,1143.8 L217.9,1143.3 L221.2,1142.1 L224.5,1140.4 L227.6,1138.5 L230.4,1136.3 L233,1133.8 L235.6,1130.9 L238.2,1127.8 L240.8,1124.4 L243.4,1120.8 L246.1,1116.9 L248.9,1112.9 L251.9,1108.4 L255.1,1103.5 L258.4,1098.8 L261.6,1094.9 L264.8,1092.1 L268,1090.1 L271.2,1088.4 L274.4,1086.4 L277.3,1083.9 L279.9,1081.2 L283,1078.7 L287.1,1076.8 L292.8,1075.7 L299.6,1075.2 L306.6,1075 L312.7,1075.1 L317.8,1075.4 L322.3,1075.9 L326.2,1076.8 L329.7,1077.8 L332.3,1079.1 L334.2,1080.7 L336,1082.4 L338.2,1084.2 L341.3,1086.3 L344.8,1088.8 L348.2,1090.8 L350.9,1091.7 L352.6,1091.2 L353.6,1089.6 L354.3,1087.5 L355.2,1085.3 L356.2,1082.5 L357.2,1079.1 L358.3,1076.1 L359.4,1074.7 L360.6,1075.6 L361.8,1078.2 L363.2,1081.1 L364.7,1083.2 L366.3,1084.3 L368.1,1085.1 L370.1,1085.4 L372.2,1084.9 L374.8,1083.2 L377.7,1080.6 L380.5,1078 L382.8,1076.4 L384.2,1076.4 L385,1077.3 L385.7,1078.4 L387.1,1078.9 L387.6,1078.4 L387.5,1077.4 L389.9,1076.4 L397.7,1075.7 L414.4,1075.6 L437.5,1075.8 L461.2,1076 L480,1076.2 L492.2,1076.2 L500.8,1076.1 L507.2,1076 L512.7,1076.2 L517,1076.8 L519.7,1077.6 L521.5,1078.4 L523.6,1078.8 L526,1078.5 L528.3,1077.8 L530.4,1077.2 L532.3,1077.2 L533.8,1078.4 L535,1080.3 L536.2,1082 L537.8,1082.7 L540,1081.7 L542.5,1079.7 L545.1,1077.6 L547.6,1076.2 L549.7,1075.6 L551.6,1075.5 L553.7,1075.9 L556.3,1077.2 L559.5,1079.3 L563.1,1082.1 L567.1,1085.7 L571.5,1090.3 L576.7,1096.4 L582.5,1103.7 L588.3,1111.1 L593.3,1117.6 L597.3,1123.1 L600.8,1128 L603.8,1132.1 L606.4,1135 L608.6,1136.4 L610.3,1136.6 L611.7,1136 L613,1135 L614.1,1133.8 L614.9,1132.2 L615.6,1129.8 L616.2,1126.3 L616.4,1121.5 L616.4,1115.5 L616.5,1109 L617.3,1102.3 L619,1094.4 L621.4,1085.4 L623.9,1077.8 L626,1074 L627.4,1074.7 L628.5,1078.5 L629.4,1085 L630.4,1093.6 L631.3,1105.6 L632.2,1120.7 L633.2,1136.5 L634.8,1150.3 L637.1,1162.2 L640,1173.4 L643,1182.9 L645.7,1189.5 L648.1,1192.3 L650.5,1192.1 L652.6,1190.6 L654.4,1189.5 L655.7,1188.9 L656.7,1188.1 L657.6,1187.4 L658.7,1187.3 L660.2,1188.7 L661.9,1191 L663.6,1192.6 L665.3,1191.7 L667,1187.9 L668.7,1182 L670.3,1174.4 L671.8,1165.5 L673.1,1154.2 L674.2,1140.7 L675.3,1127.1 L676.2,1115.4 L676.9,1104.9 L677.5,1095 L678.1,1087.6 L678.8,1084.9 L679.5,1089.2 L680.2,1098.9 L681.2,1109.7 L682.7,1117.6 L684.8,1121.1 L687.4,1122.4 L690.4,1123.3 L693.6,1125.2 L697.2,1128.5 L701.2,1132.5 L705.3,1136.8 L708.9,1141.5 L711.9,1146.3 L714.6,1151.2 L717.2,1156.8 L719.8,1163.3 L722.7,1171.9 L725.6,1182 L728.4,1191.5 L730.7,1198.2 L732.4,1201 L733.7,1201.3 L734.8,1200.4 L736,1200 L737.4,1200.2 L738.8,1200.3 L740.2,1200.4 L741.6,1200.4 L743,1200.4 L744.3,1200.4 L745.6,1200.3 L747,1200.2 L748.3,1200.8 L749.7,1202 L751.1,1202 L752.5,1199.3 L754.1,1192.1 L755.8,1181.8 L757.5,1171.2 L759,1163.3 L760.2,1160 L761.2,1159.3 L762.2,1158.4 L763.4,1154.6 L764.9,1146.1 L766.5,1134.8 L768.2,1123 L769.9,1113.2 L771.6,1105.4 L773.3,1098.5 L775,1093.3 L776.4,1090.3 L777.4,1090 L778.2,1092.1 L778.9,1095.7 L779.7,1100.1 L780.5,1106.9 L781.4,1115.8 L782.2,1123.7 L783,1127.4 L783.8,1125.2 L784.6,1119.2 L785.4,1111.5 L786.2,1104.5 L787,1098 L787.8,1091.1 L788.6,1084.8 L789.5,1080.5 L790.5,1078.6 L791.5,1078.5 L792.6,1079.4 L793.9,1080.5 L795.4,1082.2 L797.1,1084.6 L798.9,1086.9 L800.4,1088.1 L801.6,1087.2 L802.7,1085 L803.8,1083 L804.8,1082.7 L805.6,1084.7 L806.3,1088.2 L807.3,1092.4 L809.1,1096.9 L812.4,1101.8 L816.8,1107.3 L821.1,1112.8 L824.4,1117.6 L826.1,1120.5 L827,1122.1 L827.6,1124.8 L828.7,1130.6 L830.7,1142.1 L833.1,1157.4 L835.5,1172.4 L837.5,1183 L838.8,1187.1 L839.8,1187.1 L840.7,1185.9 L841.8,1186.2 L843.3,1189.3 L845.1,1193.5 L846.9,1197.1 L848.4,1198.2 L849.6,1196.9 L850.7,1193.9 L851.7,1188.8 L852.7,1180.8 L853.7,1168.4 L854.6,1152.2 L855.7,1135.7 L857.1,1121.9 L859,1111.3 L861.3,1102.3 L863.7,1095.2 L865.8,1090.3 L867.6,1088.9 L869.3,1090.4 L870.9,1092.4 L872.3,1092.5 L873.4,1089.4 L874.4,1084.7 L875.3,1080.1 L876.7,1077.2 L878.8,1077 L881.3,1078.4 L883.7,1080.3 L885.4,1081.6" fill="none" stroke="#ff0000" stroke-width="4.4" stroke-linejoin="round" stroke-linecap="round" />
<path d="M106,1217.2 L110,1218.1 L115.9,1219.5 L122.2,1220.8 L127.6,1221.5 L131.8,1221.4 L135.5,1220.9 L138.9,1220.1 L142.5,1219.3 L146.4,1218.4 L150.5,1217.4 L154.3,1216.6 L157.4,1216.2 L159.5,1216.6 L160.9,1217.6 L162.2,1218.7 L163.8,1219.3 L166,1219.1 L168.5,1218.3 L171.1,1217.7 L173.4,1217.9 L175.4,1218.8 L177.2,1220.2 L178.9,1222.4 L180.8,1225.7 L182.9,1230.7 L185,1237 L187.2,1243.8 L189.3,1250.2 L191.2,1256.6 L193.1,1263.2 L195,1268.9 L196.8,1272.5 L198.6,1272.9 L200.4,1271.1 L202.3,1268.7 L204.2,1267.2 L206.1,1267.4 L208,1268.3 L210.1,1269.1 L212.7,1269.3 L216.1,1268.6 L220,1267.4 L224,1265.8 L227.6,1264 L230.6,1262 L233.2,1259.7 L235.6,1257.1 L238.2,1254.4 L240.8,1251.5 L243.4,1248.4 L246.1,1245.1 L248.9,1241.7 L251.8,1238 L254.7,1234 L257.9,1230.1 L261.6,1226.8 L265.9,1224 L270.7,1221.6 L275.7,1219.6 L280.8,1218.3 L286.2,1217.9 L291.9,1218.1 L297.4,1218.7 L302,1219.3 L305.2,1219.8 L307.4,1220.5 L309.5,1221.1 L312.7,1221.5 L317.5,1221.5 L323.2,1221.2 L328.9,1221 L333.9,1221.5 L337.8,1223.1 L341.2,1225.4 L344.2,1227.6 L346.7,1228.9 L348.8,1229 L350.3,1228.3 L351.6,1227.2 L353,1225.7 L354.4,1223.6 L355.8,1220.8 L357.1,1218.3 L358.4,1216.6 L359.7,1216.2 L360.9,1216.5 L362.2,1217.4 L363.7,1218.3 L365.6,1219.7 L367.8,1221.5 L370,1223.1 L372.2,1223.6 L374.1,1222.5 L375.9,1220.3 L378,1218 L380.7,1216.6 L384.3,1216.5 L388.4,1217.1 L392.9,1217.9 L397.7,1218.3 L401.7,1218.2 L405.4,1217.9 L410.6,1217.5 L419,1217.2 L433.2,1217.1 L451.6,1217 L469.6,1217 L482.8,1217.2 L489,1217.5 L491,1217.8 L491.4,1218.4 L493.1,1219.4 L496.4,1220.8 L500.1,1222.6 L504.1,1224.7 L508.3,1227.1 L513.3,1230.3 L518.8,1234 L524.1,1237.6 L528,1240.1 L530.1,1241.1 L531,1241 L531.5,1240.7 L532.3,1241.2 L533,1242.3 L533.5,1243.8 L534.7,1245.8 L537.8,1248.9 L543.6,1253.4 L551.5,1259.1 L559.8,1265.1 L567.2,1270.6 L573.4,1275.5 L579.1,1280.2 L584.3,1284.4 L589,1288.1 L592.9,1291.3 L596.2,1294.2 L599.2,1296.1 L602.1,1296.8 L605.2,1295.5 L608.2,1292.8 L610.9,1289.6 L613,1287 L614.3,1286.1 L615.1,1286 L615.6,1285 L616.2,1281.5 L617,1274.3 L617.7,1264.4 L618.5,1253.9 L619.5,1244.5 L620.9,1235.7 L622.5,1227 L624.1,1219.9 L625.6,1216.2 L626.9,1216.5 L628.1,1219.7 L629.3,1225.6 L630.4,1233.6 L631.4,1245.3 L632.4,1260.3 L633.4,1275.6 L634.8,1288.1 L636.7,1297.1 L639,1304.1 L641.4,1309.7 L643.5,1314.2 L645.2,1317.5 L646.7,1319.4 L648.3,1320.4 L650,1320.8 L652.1,1320.3 L654.3,1318.9 L656.6,1317.3 L658.7,1316.4 L660.6,1317 L662.3,1318.5 L663.9,1319.4 L665.3,1318.6 L666.5,1315.8 L667.5,1311.7 L668.5,1306.1 L669.6,1299 L670.9,1289.3 L672.4,1277.4 L673.9,1265.4 L675.1,1255.4 L676.1,1247.4 L676.9,1240.3 L677.6,1235.1 L678.4,1232.5 L679.2,1233.2 L680,1236.6 L680.8,1241.5 L681.6,1246.7 L682.2,1252.6 L682.8,1259.6 L683.5,1266.4 L684.9,1271.7 L687.2,1274.9 L690.1,1276.8 L693.2,1278 L695.8,1279.4 L697.6,1281.1 L699,1282.8 L700.5,1284.1 L702.3,1284.8 L704.8,1284.3 L707.6,1282.8 L710.5,1281.5 L713.2,1281.1 L715.6,1281.9 L717.8,1283.4 L719.9,1285.5 L721.9,1288.1 L723.8,1291.3 L725.5,1295 L727.1,1299.1 L728.5,1303.3 L729.6,1307.7 L730.5,1312.5 L731.5,1317 L732.8,1320.8 L734.8,1323.7 L737.2,1325.9 L739.6,1327.8 L741.6,1329.5 L743,1331.4 L744,1333.1 L744.9,1334.5 L745.9,1335 L747,1335.2 L748.1,1335.2 L749.2,1333.7 L750.3,1329.5 L751.4,1321.9 L752.4,1311.6 L753.5,1299.9 L754.6,1288.1 L755.7,1275 L756.8,1260.3 L757.9,1247.1 L759,1238 L760.1,1235.3 L761.1,1236.9 L762.2,1239.6 L763.4,1240.1 L764.9,1237.2 L766.5,1232.7 L768.2,1228.1 L769.9,1224.9 L771.6,1223.4 L773.3,1222.8 L775,1223 L776.4,1223.8 L777.5,1225.5 L778.3,1228 L779,1230.9 L779.7,1233.6 L780.3,1236.5 L780.8,1239.7 L781.3,1242.3 L781.9,1243.4 L782.6,1242.5 L783.5,1240.1 L784.4,1236.9 L785.2,1233.6 L786,1229.8 L786.7,1225.2 L787.4,1221 L788.4,1218.3 L789.5,1217.6 L790.8,1218.2 L792.2,1219.4 L793.9,1220.5 L796,1221.6 L798.4,1223 L800.7,1224.3 L802.6,1224.9 L803.7,1224.3 L804.3,1223 L804.9,1221.8 L805.9,1221.6 L807.4,1223 L809.2,1225.5 L811.3,1228.1 L813.5,1230.3 L816,1231.4 L818.9,1231.9 L821.8,1232.7 L824.4,1234.7 L826.8,1237.9 L829.1,1242 L831.2,1247.1 L833.1,1253.2 L834.7,1261.7 L836.1,1272.2 L837.3,1281.9 L838.6,1288.1 L840,1288.7 L841.4,1285.7 L842.7,1282.2 L844,1281.5 L845.2,1285.7 L846.3,1292.8 L847.4,1299.4 L848.4,1302.3 L849.3,1301 L850.1,1297.2 L850.8,1290.7 L851.6,1281.5 L852.2,1267.2 L852.8,1248.7 L853.5,1230.7 L854.9,1218.3 L857.2,1213.5 L860.3,1213.5 L863.4,1215.6 L865.8,1217.2 L867.3,1218.1 L868.3,1219.6 L869.2,1221 L870.2,1221.6 L871.4,1220.9 L872.6,1219.4 L873.9,1217.9 L875.6,1217.2 L878,1217.8 L880.8,1219.1 L883.5,1220.6 L885.4,1221.6" fill="none" stroke="#0000ff" stroke-width="4.4" stroke-linejoin="round" stroke-linecap="round" />
<line x1="702.5" y1="1286" x2="702.5" y2="1310" stroke="#9a9a9a" stroke-width="1.8"/>
<path d="M698.5,1307.5 L706.5,1307.5 L702.5,1322 Z" fill="#000"/>
<line x1="813.5" y1="1232" x2="813.5" y2="1310" stroke="#9a9a9a" stroke-width="1.8"/>
<path d="M809.5,1307.5 L817.5,1307.5 L813.5,1322 Z" fill="#000"/>
<text transform="translate(710,1434) rotate(-90)" font-size="33">υ<tspan font-size="21" dy="9">3</tspan><tspan dy="-9">(BO</tspan><tspan font-size="21" dy="9">3</tspan><tspan dy="-9">)</tspan></text>
<text transform="translate(826.5,1434) rotate(-90)" font-size="33">υ<tspan font-size="21" dy="9">2</tspan><tspan dy="-9">(BO</tspan><tspan font-size="21" dy="9">3</tspan><tspan dy="-9">)</tspan></text>
<rect x="1055.7" y="823" width="781.8999999999999" height="630.8" fill="none" stroke="#000" stroke-width="5"/>
<line x1="1055.7" y1="1453.8" x2="1055.7" y2="1465.3" stroke="#000" stroke-width="4.2"/>
<line x1="1186" y1="1453.8" x2="1186" y2="1465.3" stroke="#000" stroke-width="4.2"/>
<line x1="1316.3" y1="1453.8" x2="1316.3" y2="1465.3" stroke="#000" stroke-width="4.2"/>
<line x1="1446.7" y1="1453.8" x2="1446.7" y2="1465.3" stroke="#000" stroke-width="4.2"/>
<line x1="1577" y1="1453.8" x2="1577" y2="1465.3" stroke="#000" stroke-width="4.2"/>
<line x1="1707.3" y1="1453.8" x2="1707.3" y2="1465.3" stroke="#000" stroke-width="4.2"/>
<line x1="1837.6" y1="1453.8" x2="1837.6" y2="1465.3" stroke="#000" stroke-width="4.2"/>
<line x1="1120.9" y1="1453.8" x2="1120.9" y2="1459.3" stroke="#000" stroke-width="3.8"/>
<line x1="1251.2" y1="1453.8" x2="1251.2" y2="1459.3" stroke="#000" stroke-width="3.8"/>
<line x1="1381.5" y1="1453.8" x2="1381.5" y2="1459.3" stroke="#000" stroke-width="3.8"/>
<line x1="1511.8" y1="1453.8" x2="1511.8" y2="1459.3" stroke="#000" stroke-width="3.8"/>
<line x1="1642.1" y1="1453.8" x2="1642.1" y2="1459.3" stroke="#000" stroke-width="3.8"/>
<line x1="1772.4" y1="1453.8" x2="1772.4" y2="1459.3" stroke="#000" stroke-width="3.8"/>
<text x="1055.7" y="1500.5" font-size="34" text-anchor="middle" fill="#000" >30</text>
<text x="1186" y="1500.5" font-size="34" text-anchor="middle" fill="#000" >20</text>
<text x="1316.3" y="1500.5" font-size="34" text-anchor="middle" fill="#000" >10</text>
<text x="1446.7" y="1500.5" font-size="34" text-anchor="middle" fill="#000" >0</text>
<text x="1577" y="1500.5" font-size="34" text-anchor="middle" fill="#000" >-10</text>
<text x="1707.3" y="1500.5" font-size="34" text-anchor="middle" fill="#000" >-20</text>
<text x="1837.6" y="1500.5" font-size="34" text-anchor="middle" fill="#000" >-30</text>
<text x="1446.5" y="1561.5" font-size="38.9" text-anchor="middle" fill="#000" >Chemical shift(ppm)</text>
<text x="1004" y="1261.5" font-size="38.9" text-anchor="start" fill="#000" transform="rotate(-90 1004 1261.5)" >Abundance(a.u.)</text>
<text x="1118" y="886" font-size="37.5" text-anchor="start" fill="#000" >(d)</text>
<text x="1209.5" y="1227.5" font-size="33">BO<tspan font-size="20" dy="7">3</tspan></text>
<text x="1410" y="1027.5" font-size="33">BO<tspan font-size="20" dy="7">4</tspan></text>
<path d="M1057,1380.7 L1058.7,1379.7 L1061.2,1378.3 L1064.1,1377 L1067,1376.4 L1070.1,1377 L1073.5,1378.5 L1076.8,1380 L1079.8,1380.7 L1082.3,1380.3 L1084.5,1379.3 L1086.4,1378.2 L1088.3,1377.5 L1090,1377.4 L1091.5,1377.6 L1093,1378 L1094.7,1378.6 L1096.7,1379.6 L1098.8,1380.9 L1101,1382.1 L1103.2,1382.8 L1105.3,1382.8 L1107.5,1382.4 L1109.6,1381.6 L1111.7,1380.7 L1113.8,1379.3 L1115.8,1377.5 L1117.9,1375.8 L1120.2,1374.7 L1122.8,1374.8 L1125.5,1375.7 L1128.2,1376.5 L1130.8,1376.4 L1133,1374.7 L1135,1372.1 L1137.1,1369.4 L1139.3,1367.9 L1141.8,1368 L1144.4,1369.1 L1147.1,1370.4 L1150,1371.1 L1153.1,1370.8 L1156.4,1370.1 L1159.6,1369.2 L1162.7,1368.4 L1165.6,1367.9 L1168.4,1367.5 L1171,1366.9 L1173.3,1365.8 L1175.2,1364.4 L1176.8,1362.8 L1178.2,1360.6 L1179.7,1357.3 L1181.3,1352.7 L1183,1347.2 L1184.6,1340.8 L1186.1,1333.9 L1187.5,1326.1 L1188.8,1317.4 L1190.1,1308.5 L1191.4,1299.9 L1192.7,1291.2 L1194.1,1282.4 L1195.4,1274.3 L1196.7,1268 L1197.8,1263.8 L1198.8,1261.1 L1199.8,1259.7 L1201,1259.5 L1202.5,1260.9 L1204.1,1263.8 L1205.8,1267.2 L1207.4,1270.1 L1209,1272.4 L1210.6,1274.5 L1212.1,1276.3 L1213.7,1277.6 L1215.3,1278.3 L1216.9,1278.4 L1218.5,1278.2 L1220.1,1277.6 L1221.7,1276.7 L1223.2,1275.3 L1224.8,1273.8 L1226.5,1272.2 L1228.4,1270.5 L1230.5,1268.7 L1232.7,1266.9 L1235,1265.4 L1237.6,1264.2 L1240.4,1263.2 L1243.2,1262.4 L1245.6,1261.6 L1247.5,1261.1 L1249,1260.8 L1250.4,1260.4 L1252,1259.5 L1253.8,1258 L1255.7,1256.2 L1257.6,1254.1 L1259.5,1252 L1261.4,1249.6 L1263.3,1246.9 L1265.2,1244.7 L1266.9,1243.5 L1268.4,1243.5 L1269.7,1244.3 L1271,1246.1 L1272.2,1248.9 L1273.3,1252.8 L1274.4,1257.7 L1275.5,1263.5 L1276.5,1270.1 L1277.6,1277.8 L1278.6,1286.6 L1279.6,1295.6 L1280.7,1304.1 L1281.7,1312.3 L1282.8,1320.6 L1283.9,1328 L1285,1333.9 L1286.2,1337.7 L1287.4,1339.9 L1288.7,1341.3 L1290.3,1342.4 L1292.2,1342.9 L1294.3,1342.8 L1296.6,1342.7 L1298.8,1343.5 L1300.9,1345.8 L1302.9,1349.1 L1305,1352.5 L1307.3,1355.2 L1309.8,1357 L1312.5,1358.3 L1315.3,1359.4 L1318,1360.5 L1320.8,1361.6 L1323.6,1362.6 L1326.2,1363.6 L1328.6,1364.7 L1330.2,1365.9 L1331.4,1367.2 L1332.8,1368.6 L1335,1370.1 L1338.7,1372 L1343.2,1374.2 L1348,1376.2 L1352,1377.5 L1355.1,1377.8 L1357.8,1377.5 L1360.2,1376.9 L1362.6,1376.4 L1364.8,1376.3 L1366.8,1376.4 L1368.9,1376.3 L1371.1,1375.4 L1373.6,1373.4 L1376.4,1370.7 L1379.1,1367.9 L1381.7,1365.8 L1384,1365 L1386.3,1365 L1388.4,1364.8 L1390.5,1363.7 L1392.5,1361.1 L1394.5,1357.6 L1396.4,1353.9 L1398.4,1350.6 L1400.4,1348.4 L1402.5,1346.8 L1404.5,1344.8 L1406.3,1341.4 L1407.8,1337.3 L1409.1,1332.6 L1410.3,1325.8 L1411.5,1315.1 L1412.6,1299.7 L1413.6,1280.6 L1414.5,1259.1 L1415.5,1236.3 L1416.5,1211.3 L1417.5,1183.8 L1418.5,1156.3 L1419.4,1131.3 L1420.2,1108.2 L1421,1086.2 L1421.8,1067 L1422.5,1052.5 L1423.2,1043.7 L1423.8,1039.4 L1424.5,1038.4 L1425.2,1039.4 L1426,1041.7 L1426.8,1046 L1427.7,1053.6 L1428.6,1065.7 L1429.5,1083.8 L1430.5,1106.7 L1431.5,1132.2 L1432.5,1157.6 L1433.5,1184.2 L1434.4,1212.6 L1435.4,1239.7 L1436.5,1262.6 L1437.7,1279.7 L1438.9,1292.9 L1440.3,1304.1 L1441.7,1315.1 L1443.3,1326.5 L1445,1337.3 L1446.7,1346.9 L1448.3,1354.5 L1449.7,1359.7 L1450.9,1362.9 L1452.1,1364.9 L1453.5,1366.3 L1455.1,1366.7 L1456.7,1365.9 L1458.4,1365 L1460.1,1365 L1461.7,1366.4 L1463.2,1368.5 L1464.9,1370.9 L1466.7,1372.9 L1468.8,1374.7 L1471,1376.5 L1473.4,1377.8 L1475.8,1378.1 L1478.4,1376.8 L1481.1,1374.2 L1483.8,1371.6 L1486.4,1370.3 L1488.7,1370.8 L1491,1372.3 L1493.2,1374.2 L1495.5,1375.5 L1497.9,1376 L1500.3,1376.1 L1503,1376.3 L1506,1376.8 L1509.6,1378 L1513.6,1379.6 L1517.7,1381.1 L1521.8,1382.1 L1525.7,1382.1 L1529.5,1381.6 L1533.5,1381 L1537.6,1380.8 L1542.1,1381.3 L1546.9,1382.3 L1551.6,1383.1 L1555.9,1383.4 L1559.7,1382.7 L1563.2,1381.5 L1566.3,1380.2 L1569.1,1379.5 L1571.4,1379.8 L1573.2,1380.8 L1575,1381.8 L1577,1382.1 L1579.4,1381.2 L1582,1379.6 L1584.7,1378.2 L1587.5,1378.1 L1590.4,1380.3 L1593.5,1383.9 L1596.6,1387.5 L1599.7,1389.3 L1602.9,1388.5 L1606.3,1386 L1609.5,1383.3 L1612.4,1381.6 L1614.8,1381.6 L1616.8,1382.5 L1618.7,1383.5 L1620.9,1383.7 L1623.3,1382.5 L1625.8,1380.5 L1628.4,1378.7 L1631.4,1378 L1634.8,1379.3 L1638.7,1381.9 L1642.5,1384.5 L1646.2,1385.8 L1649.6,1384.9 L1652.9,1382.8 L1656,1380.6 L1658.9,1379.4 L1661.6,1379.8 L1664,1381.1 L1666.4,1382.7 L1668.8,1383.7 L1671.3,1384.2 L1673.7,1384.4 L1676.2,1384.3 L1678.6,1384 L1680.8,1383 L1683,1381.4 L1685.2,1380.2 L1687.8,1380.2 L1690.8,1382.3 L1694.2,1385.9 L1697.7,1389.4 L1701.2,1391.4 L1704.8,1391.2 L1708.5,1389.7 L1712.1,1387.8 L1715.2,1386.5 L1717.7,1386 L1719.9,1385.7 L1721.8,1385.7 L1723.7,1385.8 L1725.5,1386.2 L1727.2,1386.8 L1728.9,1387.5 L1730.7,1387.9 L1732.8,1388 L1735,1387.9 L1737.1,1387.6 L1739.2,1387.2 L1741,1386.4 L1742.6,1385.4 L1744.3,1384.3 L1746.2,1383.7 L1748.4,1383.5 L1750.8,1383.7 L1753.4,1384 L1756.1,1384.4 L1759.2,1385.1 L1762.7,1386 L1766.1,1386.8 L1768.8,1387.2 L1770.6,1386.9 L1771.8,1386.2 L1772.9,1385.4 L1774.4,1385.1 L1776.6,1385.6 L1779.3,1386.6 L1781.9,1387.5 L1784.3,1387.9 L1786.2,1387.3 L1787.8,1386 L1789.4,1384.8 L1791.3,1384.4 L1793.6,1385.3 L1796.3,1387 L1798.9,1388.8 L1801.2,1390 L1803.1,1390.4 L1804.7,1390.4 L1806.3,1390 L1808.2,1389.3 L1810.5,1387.9 L1813.1,1385.9 L1815.7,1384.1 L1818.1,1383 L1820.3,1383.2 L1822.4,1384.2 L1824.4,1385.3 L1826.5,1385.8 L1828.8,1385.3 L1831.3,1384.2 L1833.5,1383.1 L1835,1382.3" fill="none" stroke="#000" stroke-width="4.3" stroke-linejoin="round" stroke-linecap="round" />
</g>
</svg>
</div></body></html>
